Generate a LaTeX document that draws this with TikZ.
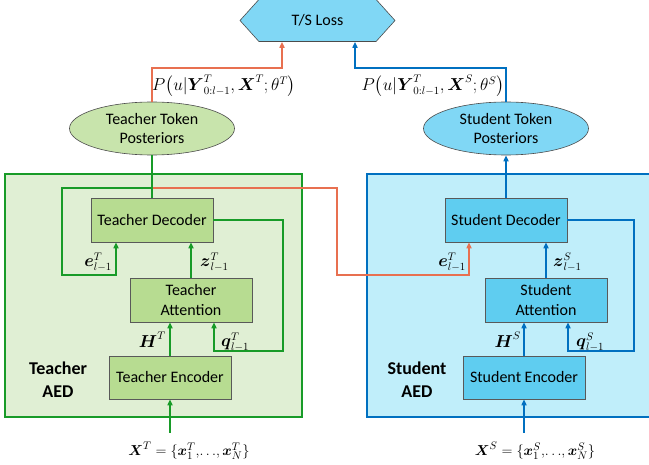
\documentclass[tikz,border=0pt]{standalone}
\usepackage{amsmath}
\usepackage{fontspec}
\setmainfont{Carlito}
\usetikzlibrary{shapes.geometric,shapes.symbols,arrows.meta}
\definecolor{tgreen}{RGB}{24,155,40}
\definecolor{tblue}{RGB}{0,112,192}
\definecolor{torange}{RGB}{232,112,80}
\definecolor{tboxfill}{RGB}{224,239,212}
\definecolor{tblockfill}{RGB}{183,220,145}
\definecolor{tpostfill}{RGB}{200,228,172}
\definecolor{sboxfill}{RGB}{192,238,250}
\definecolor{sblockfill}{RGB}{95,205,240}
\definecolor{spostfill}{RGB}{128,215,245}
\begin{document}
\begin{tikzpicture}[x=1pt,y=-1pt,
    every node/.style={inner sep=0pt,font=\fontsize{16}{19.5}\selectfont},
    block/.style={draw=black!65,line width=0.6pt,minimum width=122,minimum height=44,align=center},
    post/.style={ellipse,draw=black!70,line width=0.6pt,minimum width=165,minimum height=53,align=center},
    aed/.style={line width=1.8pt},
    aedlabel/.style={font=\fontsize{18}{23}\selectfont\bfseries,align=center},
    inlabel/.style={font=\fontsize{15}{18}\selectfont},
    tline/.style={tgreen,line width=1.8pt},
    sline/.style={tblue,line width=1.8pt},
    oline/.style={torange,line width=1.8pt},
    tip/.style={-{Triangle[length=6pt,width=5pt]}}]
\useasboundingbox (0,0) rectangle (649,465);
% loss
\node[signal,signal to=west and east,signal pointer angle=96,draw=black!70,line width=0.6pt,
    fill=spostfill,minimum width=155,minimum height=42] (loss) at (317.5,20.5) {T/S Loss};
% containers
\node[aed,draw=tgreen,fill=tboxfill,minimum width=297,minimum height=243] (taed) at (153.5,295.5) {};
\node[aed,draw=tblue,fill=sboxfill,minimum width=290,minimum height=243] (saed) at (512,295.5) {};
\node[aedlabel] (taedl) at (58,380) {Teacher\\AED};
\node[aedlabel] (saedl) at (417,380) {Student\\AED};
% posteriors
\node[post,fill=tpostfill] (tpost) at (152,128.5) {Teacher Token\\Posteriors};
\node[post,fill=spostfill] (spost) at (506,128.5) {Student Token\\Posteriors};
% teacher blocks
\node[block,fill=tblockfill] (tdec) at (152,220) {Teacher Decoder};
\node[block,fill=tblockfill] (tatt) at (191,300) {Teacher\\Attention};
\node[block,fill=tblockfill,minimum height=43] (tenc) at (170,377.5) {Teacher Encoder};
% student blocks
\node[block,fill=sblockfill] (sdec) at (506,220) {Student Decoder};
\node[block,fill=sblockfill] (satt) at (546,300) {Student\\Attention};
\node[block,fill=sblockfill,minimum height=43] (senc) at (524,377.5) {Student Encoder};
\coordinate (tbr) at (152,188);
\coordinate (tin) at (170,433);
\coordinate (sin) at (524,433);
% outputs to loss
\draw[oline,tip] (tpost.north) -- ++(0,-34) -| ([xshift=-35.5pt]loss.south);
\draw[sline,tip] (spost.north) -- ++(0,-34) -| ([xshift=37.5pt]loss.south);
\node (tp) at (224,86) {$P\big(u|\boldsymbol{Y}^{T}_{0:l-1},\boldsymbol{X}^{T};\theta^{T}\big)$};
\node (sp) at (433,86) {$P\big(u|\boldsymbol{Y}^{T}_{0:l-1},\boldsymbol{X}^{S};\theta^{S}\big)$};
% teacher embedding to student decoder
\draw[oline,tip] (tbr) -- (337,188) -- (337,275) -| ([xshift=-37pt]sdec.south);
% teacher connectors
\draw[tline] (tdec.north) -- (tpost.south);
\draw[tline,tip] (tbr) -| (62,275) -| ([xshift=-36pt]tdec.south);
\draw[tline,tip] (tatt.north) -- (tatt.north |- tdec.south);
\draw[tline,tip] (tdec.east) -| (283,351) -| ([xshift=23pt]tatt.south);
\draw[tline,tip] (tenc.north) -- (tenc.north |- tatt.south);
\draw[tline,tip] (tin) -- (tenc.south);
% student connectors
\draw[sline,tip] (sdec.north) -- (spost.south);
\draw[sline,tip] (satt.north) -- (satt.north |- sdec.south);
\draw[sline,tip] (sdec.east) -| (634,351) -| ([xshift=22pt]satt.south);
\draw[sline,tip] (senc.north) -- (senc.north |- satt.south);
\draw[sline,tip] (sin) -- (senc.south);
% labels
\node[anchor=east] (te) at (112,262) {$\boldsymbol{e}^{T}_{l-1}$};
\node[anchor=west] (tz) at (200,262) {$\boldsymbol{z}^{T}_{l-1}$};
\node[anchor=west] (tq) at (221,342) {$\boldsymbol{q}^{T}_{l-1}$};
\node[anchor=east] (th) at (166,340) {$\boldsymbol{H}^{T}$};
\node[anchor=east] (se) at (466,262) {$\boldsymbol{e}^{T}_{l-1}$};
\node[anchor=west] (sz) at (553,262) {$\boldsymbol{z}^{S}_{l-1}$};
\node[anchor=west] (sq) at (576,342) {$\boldsymbol{q}^{S}_{l-1}$};
\node[anchor=east] (sh) at (521,340) {$\boldsymbol{H}^{S}$};
\node[inlabel] (tx) at (189,451) {$\boldsymbol{X}^{T}=\{\boldsymbol{x}^{T}_{1},\!\ldots\!,\boldsymbol{x}^{T}_{N}\}$};
\node[inlabel] (sx) at (535,451) {$\boldsymbol{X}^{S}=\{\boldsymbol{x}^{S}_{1},\!\ldots\!,\boldsymbol{x}^{S}_{N}\}$};
\end{tikzpicture}
\end{document}
